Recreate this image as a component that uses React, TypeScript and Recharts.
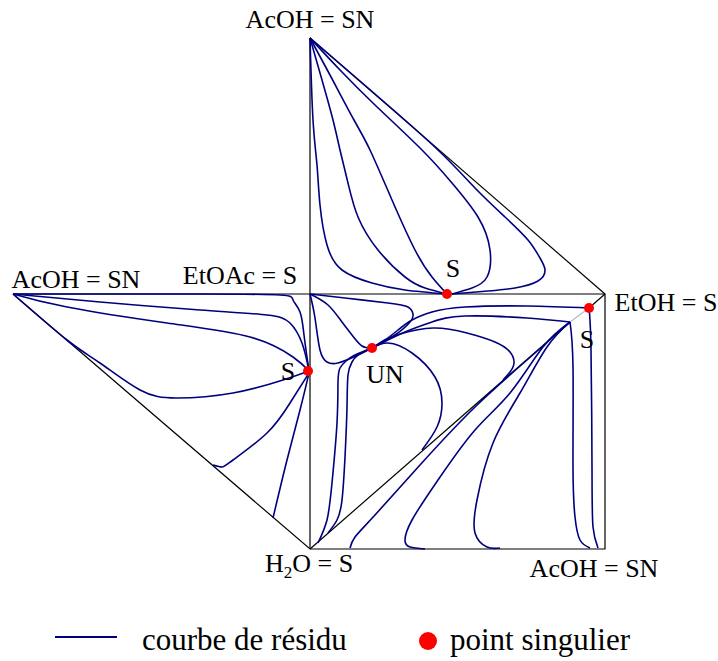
import { ComposedChart, Line, Scatter, XAxis, YAxis, Legend } from "recharts";

// diagram coordinates (same frame as the picture, y grows downward)
const frameLeftEdge = [[310, 38], [310, 549]];
const frameTopHyp = [[310, 38], [605, 294]];
const frameOuter = [[13, 294], [605, 294], [605, 549], [310, 549], [13, 294]];
const frameDiag = [[310, 549], [570, 322]];
const frameDiagEnd = [[589, 308], [605, 294]];
const frameDiagLight = [[570, 322], [589, 308]];

// residue curves, upper triangle
const t1 = [[310, 38], [313, 120], [317, 165], [320, 205], [327, 245], [342, 270], [372, 283], [405, 290], [447, 294]];
const t2 = [[310, 38], [322, 80], [333, 120], [340, 150], [348, 183], [358, 217], [378, 250], [405, 277], [425, 288], [447, 294]];
const t3 = [[310, 38], [330, 75], [354, 120], [370, 150], [392, 200], [415, 250], [432, 277], [447, 294]];
const t4 = [[310, 38], [340, 70], [375, 105], [422, 150], [452, 183], [478, 217], [490, 250], [487, 277], [472, 288], [452, 294]];
const t5 = [[310, 38], [375, 94], [438, 150], [475, 188], [505, 217], [528, 240], [540, 258], [545, 270], [538, 281], [515, 288], [488, 291], [452, 294]];

// residue curves, left triangle
const l1 = [[13, 294], [83, 294], [200, 294], [280, 295], [293, 300], [300, 312], [304, 335], [309, 371]];
const l2 = [[13, 294], [100, 302], [200, 310], [267, 315], [290, 323], [302, 343], [309, 371]];
const l3 = [[13, 294], [67, 307], [167, 323], [250, 337], [293, 357], [309, 371]];
const l4 = [[13, 294], [67, 340], [100, 363], [140, 390], [177, 398], [233, 393], [283, 380], [309, 371]];
const l5 = [[213, 465], [222, 467], [233, 460], [267, 433], [290, 403], [309, 373]];
const l6 = [[273, 518], [287, 460], [300, 410], [309, 373]];

// residue curves, square above the diagonal
const c1 = [[310, 294], [345, 298], [388, 303], [408, 307], [413, 314], [410, 322], [395, 335], [372, 348]];
const c2 = [[310, 294], [328, 305], [342, 322], [352, 335], [362, 346], [372, 348]];
const c3 = [[310, 294], [315, 318], [320, 350], [327, 362], [338, 363], [358, 355], [372, 348]];
const u1 = [[372, 348], [355, 355], [346, 361], [340, 368], [338, 382], [337, 423], [332, 483], [327, 520], [318, 543]];
const u2 = [[372, 348], [358, 355], [352, 362], [348, 375], [347, 407], [345, 457], [342, 500], [337, 520], [328, 533]];
const r1 = [[372, 348], [385, 340], [398, 330], [412, 320], [432, 312], [465, 307], [527, 306], [589, 308]];
const r2 = [[372, 348], [382, 343], [405, 332], [432, 322], [465, 316], [527, 318], [570, 322]];
const r3 = [[372, 348], [385, 340], [400, 334], [433, 328], [467, 333], [495, 342], [510, 352], [514, 363], [510, 372], [503, 380]];
const r4 = [[372, 348], [388, 343], [412, 353], [435, 377], [442, 403], [437, 427], [422, 450]];

// residue curves, square below the diagonal
const d1 = [[570, 322], [527, 360], [475, 407], [420, 465], [375, 515], [355, 537], [350, 548]];
const d2 = [[570, 322], [543, 347], [510, 393], [475, 430], [438, 480], [412, 520], [405, 540], [410, 547], [425, 549]];
const d3 = [[570, 322], [547, 347], [520, 393], [493, 443], [477, 500], [475, 533], [487, 547], [500, 548]];
const d4 = [[570, 322], [573, 367], [573, 467], [575, 517], [580, 540], [590, 548]];
const d5 = [[589, 308], [591, 350], [592, 467], [593, 527], [598, 548]];

const curves = [t1, t2, t3, t4, t5, l1, l2, l3, l4, l5, l6, c1, c2, c3, u1, u2, r1, r2, r3, r4, d1, d2, d3, d4, d5];

const singularPoints = [
  { x: 447, y: 294 },
  { x: 372, y: 348 },
  { x: 308, y: 371 },
  { x: 589, y: 308 },
];

const labels = [
  { x: 310, y: 28, text: "AcOH = SN" },
  { x: 76, y: 288, text: "AcOH = SN" },
  { x: 240, y: 284, text: "EtOAc = S" },
  { x: 453, y: 277, text: "S" },
  { x: 666, y: 311, text: "EtOH = S" },
  { x: 587, y: 348, text: "S" },
  { x: 288, y: 380, text: "S" },
  { x: 385, y: 383, text: "UN" },
  { x: 309, y: 572, text: "H2O = S" },
  { x: 594, y: 577, text: "AcOH = SN" },
];

const NAVY = "#00007f";
const FONT = "'Liberation Serif', 'Times New Roman', serif";

const toPts = (a: number[][]) => a.map(([x, y]) => ({ x, y }));

const LabelShape = (props: any) => {
  const { cx, cy, payload } = props;
  if (payload.text === "H2O = S") {
    return (
      <text x={cx} y={cy} textAnchor="middle" fontFamily={FONT} fontSize={26} fill="#000">
        H<tspan dy={6} fontSize={17}>2</tspan>
        <tspan dy={-6}>O = S</tspan>
      </text>
    );
  }
  return (
    <text x={cx} y={cy} textAnchor="middle" fontFamily={FONT} fontSize={26} fill="#000">
      {payload.text}
    </text>
  );
};

const DotShape = (props: any) => <circle cx={props.cx} cy={props.cy} r={5} fill="#ff0000" />;

const LegendContent = () => (
  <svg width={718} height={46}>
    <line x1={55} y1={22} x2={117} y2={22} stroke={NAVY} strokeWidth={2} />
    <text x={142} y={35} fontFamily={FONT} fontSize={31} fill="#000">
      courbe de résidu
    </text>
    <circle cx={428} cy={26} r={9} fill="#ff0000" />
    <text x={450} y={35} fontFamily={FONT} fontSize={31} fill="#000">
      point singulier
    </text>
  </svg>
);

const frames = [frameLeftEdge, frameTopHyp, frameOuter, frameDiag, frameDiagEnd];

export default function App() {
  return (
    <div style={{ position: "absolute", left: 0, top: 0, width: 718, height: 661, background: "#fff", pointerEvents: "none" }}>
      <ComposedChart width={718} height={661} margin={{ top: 0, right: 0, bottom: 0, left: 0 }}>
        <XAxis type="number" dataKey="x" domain={[0, 718]} hide />
        <YAxis type="number" dataKey="y" domain={[0, 661]} reversed hide />
        {frames.map((f, i) => (
          <Line
            key={"f" + i}
            data={toPts(f)}
            dataKey="y"
            type="linear"
            stroke="#000"
            strokeWidth={1.2}
            dot={false}
            activeDot={false}
            isAnimationActive={false}
          />
        ))}
        <Line
          data={toPts(frameDiagLight)}
          dataKey="y"
          type="linear"
          stroke="#b8b8c8"
          strokeWidth={1.2}
          dot={false}
          activeDot={false}
          isAnimationActive={false}
        />
        {curves.map((c, i) => (
          <Line
            key={"c" + i}
            data={toPts(c)}
            dataKey="y"
            type="natural"
            stroke={NAVY}
            strokeWidth={1.6}
            dot={false}
            activeDot={false}
            isAnimationActive={false}
          />
        ))}
        <Scatter data={singularPoints} shape={DotShape} isAnimationActive={false} />
        <Scatter data={labels} shape={LabelShape} isAnimationActive={false} />
        <Legend
          layout="horizontal"
          verticalAlign="middle"
          align="center"
          wrapperStyle={{ top: 615, left: 0, width: 718, height: 46 }}
          content={LegendContent}
        />
      </ComposedChart>
    </div>
  );
}
